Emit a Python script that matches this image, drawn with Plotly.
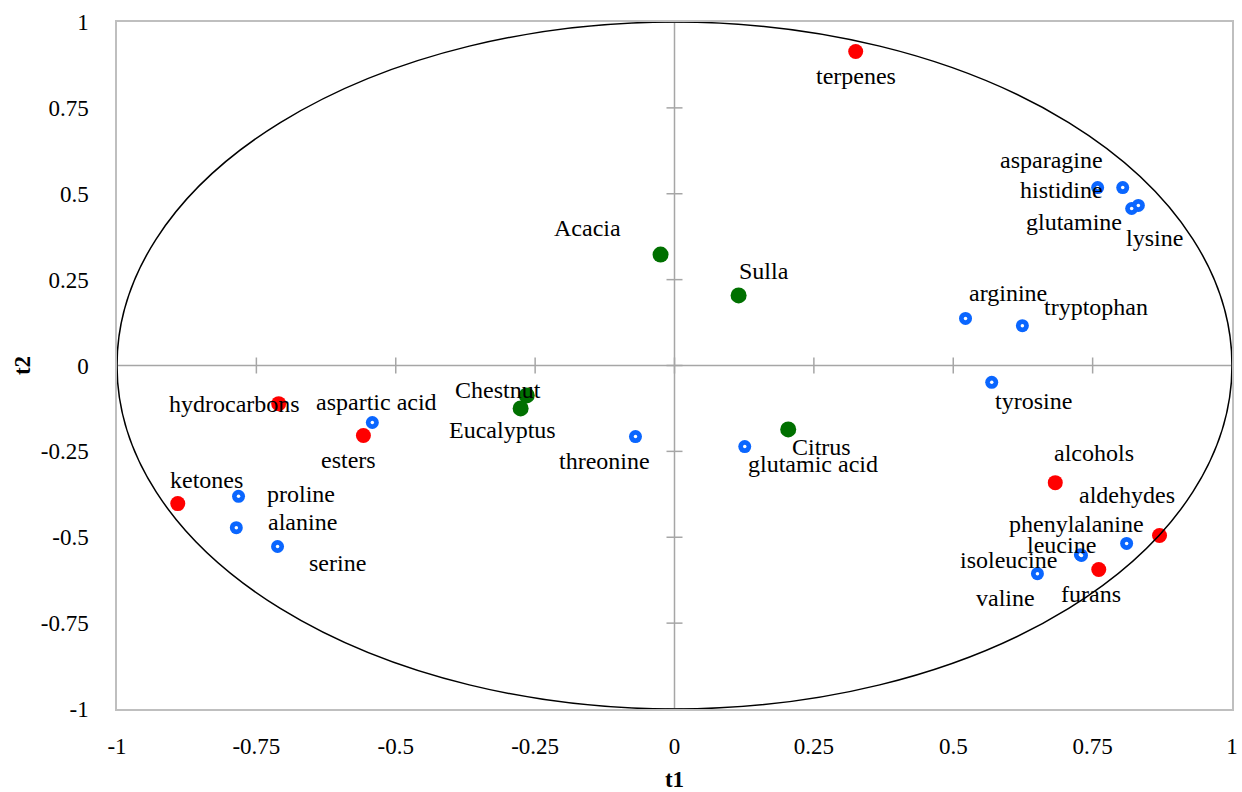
import plotly.graph_objects as go

# ---------------- data ----------------
aa_names = ["proline", "alanine", "serine", "aspartic acid", "threonine", "glutamic acid",
            "tyrosine", "arginine", "tryptophan", "asparagine", "histidine", "glutamine",
            "lysine", "phenylalanine", "leucine", "isoleucine", "valine"]
aa_t1 = [-0.782, -0.786, -0.712, -0.542, -0.070, 0.126, 0.569, 0.522, 0.624, 0.759, 0.804,
         0.820, 0.832, 0.811, 0.730, 0.728, 0.651]
aa_t2 = [-0.381, -0.472, -0.527, -0.166, -0.207, -0.236, -0.049, 0.137, 0.116, 0.518, 0.518,
         0.457, 0.466, -0.518, -0.553, -0.551, -0.606]

vol_names = ["terpenes", "hydrocarbons", "esters", "ketones", "alcohols", "aldehydes", "furans"]
vol_t1 = [0.325, -0.710, -0.558, -0.891, 0.683, 0.870, 0.761]
vol_t2 = [0.914, -0.111, -0.204, -0.402, -0.341, -0.495, -0.594]

honey_names = ["Acacia", "Sulla", "Chestnut", "Eucalyptus", "Citrus"]
honey_t1 = [-0.025, 0.115, -0.265, -0.276, 0.204]
honey_t2 = [0.323, 0.204, -0.087, -0.125, -0.186]

tick_vals = [-1, -0.75, -0.5, -0.25, 0, 0.25, 0.5, 0.75, 1]
tick_text = ["-1", "-0.75", "-0.5", "-0.25", "0", "0.25", "0.5", "0.75", "1"]

# label offsets in pixels (dx right, dy down)
label_offsets = {
    "terpenes": (0, 24), "asparagine": (-46, -28), "histidine": (-61, 2),
    "glutamine": (-58, 13), "lysine": (16, 33), "Acacia": (-73, -27), "Sulla": (25, -24),
    "arginine": (42, -25), "tryptophan": (74, -19), "tyrosine": (42, 19),
    "Chestnut": (-29, -5), "Eucalyptus": (-18, 22), "threonine": (-31, 24),
    "Citrus": (33, 18), "glutamic acid": (68, 17), "hydrocarbons": (-44, 0),
    "aspartic acid": (4, -21), "esters": (-15, 24), "ketones": (29, -24),
    "proline": (62, -2), "alanine": (66, -6), "serine": (60, 16), "alcohols": (39, -30),
    "aldehydes": (-33, -41), "phenylalanine": (-50, -19), "leucine": (-20, -10),
    "isoleucine": (-72, 5), "valine": (-32, 24), "furans": (-8, 24),
}

FONT = "Liberation Serif"
FS_LABEL = 24
FS_TICK = 23

fig = go.Figure()

# honey samples (green)
fig.add_trace(go.Scatter(x=honey_t1, y=honey_t2, mode="markers",
                         marker=dict(color="#007000", size=16, line=dict(width=0)),
                         hoverinfo="text", text=honey_names, showlegend=False))
# amino acids (blue ring)
fig.add_trace(go.Scatter(x=aa_t1, y=aa_t2, mode="markers",
                         marker=dict(color="#0A66FF", size=13, line=dict(width=0)),
                         hoverinfo="text", text=aa_names, showlegend=False))
fig.add_trace(go.Scatter(x=aa_t1, y=aa_t2, mode="markers",
                         marker=dict(color="white", size=3.5, line=dict(width=0)),
                         hoverinfo="skip", showlegend=False))
# volatile classes (red)
fig.add_trace(go.Scatter(x=vol_t1, y=vol_t2, mode="markers",
                         marker=dict(color="#FF0000", size=15, line=dict(width=0)),
                         hoverinfo="text", text=vol_names, showlegend=False))

# labels
annotations = []
for names, xs, ys in [(honey_names, honey_t1, honey_t2), (aa_names, aa_t1, aa_t2),
                      (vol_names, vol_t1, vol_t2)]:
    for n, x, y in zip(names, xs, ys):
        dx, dy = label_offsets[n]
        annotations.append(dict(x=x, y=y, xref="x", yref="y", text=n, showarrow=False,
                                xshift=dx, yshift=-dy,
                                font=dict(family=FONT, size=FS_LABEL, color="black")))

shapes = []
# unit circle
shapes.append(dict(type="circle", xref="x", yref="y", x0=-1, x1=1, y0=-1, y1=1,
                   line=dict(color="black", width=1.5), layer="above"))
# central axes
shapes.append(dict(type="line", xref="x", yref="y", x0=-1, x1=1, y0=0, y1=0,
                   line=dict(color="#A6A6A6", width=1.5), layer="below"))
shapes.append(dict(type="line", xref="x", yref="y", x0=0, x1=0, y0=-1, y1=1,
                   line=dict(color="#A6A6A6", width=1.5), layer="below"))
# cross ticks on central axes
for t in tick_vals:
    shapes.append(dict(type="line", xref="x", yref="y", x0=t, x1=t,
                       ysizemode="pixel", yanchor=0, y0=-8, y1=8,
                       line=dict(color="#A6A6A6", width=1.5), layer="below"))
    shapes.append(dict(type="line", xref="x", yref="y", y0=t, y1=t,
                       xsizemode="pixel", xanchor=0, x0=-8, x1=8,
                       line=dict(color="#A6A6A6", width=1.5), layer="below"))

fig.update_layout(
    width=1242, height=792,
    margin=dict(l=117, r=10, t=22, b=83, autoexpand=False),
    paper_bgcolor="white", plot_bgcolor="white",
    font=dict(family=FONT, size=FS_TICK, color="black"),
    shapes=shapes, annotations=annotations,
    xaxis=dict(range=[-1, 1], tickvals=tick_vals, ticktext=tick_text, automargin=False,
               showgrid=False, zeroline=False, showline=True, mirror=True,
               linecolor="#BFBFBF", linewidth=1.5,
               ticks="outside", ticklen=16, tickcolor="rgba(0,0,0,0)",
               tickfont=dict(family=FONT, size=FS_TICK),
               title=dict(text="<b>t1</b>", font=dict(family=FONT, size=FS_TICK), standoff=14)),
    yaxis=dict(range=[-1, 1], tickvals=tick_vals, ticktext=tick_text, automargin=False,
               showgrid=False, zeroline=False, showline=True, mirror=True,
               linecolor="#BFBFBF", linewidth=1.5,
               ticks="outside", ticklen=22, tickcolor="rgba(0,0,0,0)",
               tickfont=dict(family=FONT, size=FS_TICK),
               title=dict(text="<b>t2</b>", font=dict(family=FONT, size=FS_TICK), standoff=4)),
)

fig.write_html("out.html", config={"displayModeBar": False},
               post_script="document.body.style.margin='0';document.body.style.overflow='hidden';")
